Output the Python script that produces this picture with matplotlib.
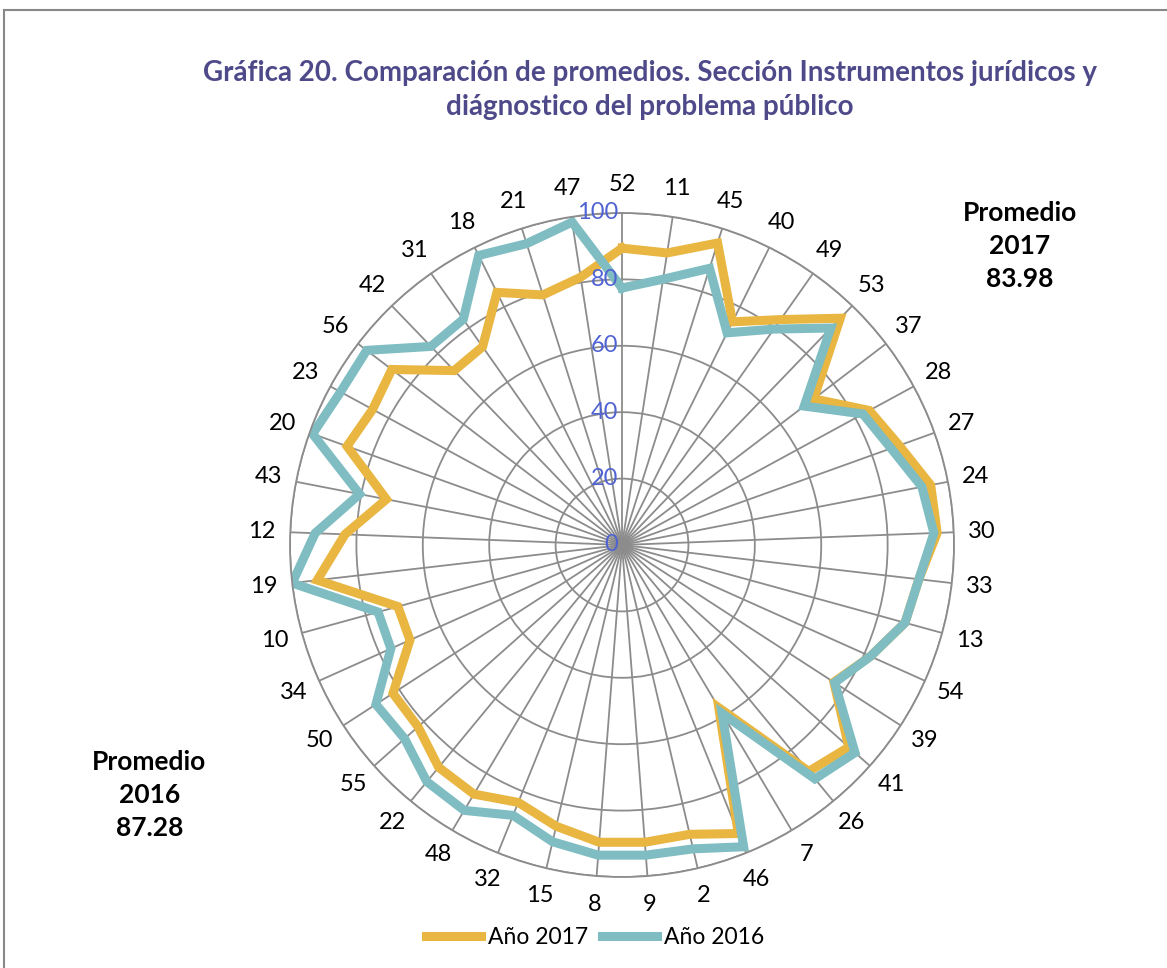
import numpy as np
import matplotlib.pyplot as plt
from matplotlib.lines import Line2D

plt.rcParams['font.family'] = ['Lato', 'DejaVu Sans']

# --- Datos
categorias = ['52', '11', '45', '40', '49', '53', '37', '28', '27', '24', '30',
              '33', '13', '54', '39', '41', '26', '7', '46', '2', '9', '8',
              '15', '32', '48', '22', '55', '50', '34', '10', '19', '12', '43',
              '20', '23', '56', '42', '31', '18', '21', '47']

anio_2017 = [89.4, 89.0, 95.4, 75.0, 83.0, 94.8, 72.6, 84.8, 88.7, 94.7, 95.0,
             90.0, 88.4, 82.0, 76.0, 91.5, 88.4, 57.0, 93.7, 89.5, 89.8, 89.8,
             87.0, 83.6, 87.3, 86.8, 82.3, 82.2, 70.0, 70.0, 92.4, 83.5, 72.3,
             88.0, 85.5, 87.2, 72.9, 73.0, 84.9, 79.0, 81.6]

anio_2016 = [77.4, 81.0, 87.4, 71.3, 79.5, 90.7, 69.0, 82.6, 86.1, 92.0, 94.0,
             90.0, 88.4, 82.0, 76.3, 94.0, 91.3, 59.0, 98.0, 94.0, 93.7, 93.7,
             91.8, 87.8, 93.0, 92.4, 87.7, 88.3, 76.3, 76.2, 100.0, 92.5, 80.5,
             99.0, 96.5, 96.7, 83.0, 83.1, 97.3, 95.2, 98.4]

escala = [0, 20, 40, 60, 80, 100]
promedio_2017 = '83.98'
promedio_2016 = '87.28'

naranja = '#E8B641'
turquesa = '#7FBDC2'
gris = '#8C8C8C'

n = len(categorias)
ang = np.arange(n) * 2 * np.pi / n
ang_c = np.append(ang, ang[0])

fig = plt.figure(figsize=(11.67, 9.68), dpi=100)
ax = fig.add_axes([0.2485, 0.094, 0.569, 0.686], projection='polar')
ax.set_theta_zero_location('N')
ax.set_theta_direction(-1)

l17, = ax.plot(ang_c, np.append(anio_2017, anio_2017[0]), color=naranja,
               lw=6.5, solid_joinstyle='miter', label='Año 2017')
l16, = ax.plot(ang_c, np.append(anio_2016, anio_2016[0]), color=turquesa,
               lw=6.5, solid_joinstyle='miter', label='Año 2016')

ax.set_ylim(0, 100)
ax.set_yticks(escala[1:])
ax.set_yticklabels([])
ax.set_xticks(ang)
ax.set_xticklabels([])
ax.grid(color=gris, lw=1.3)
ax.spines['polar'].set_color(gris)
ax.spines['polar'].set_linewidth(1.3)

for v in escala:
    ax.annotate(str(v), xy=(0, v), xytext=(-3, 0), textcoords='offset points',
                ha='right', va='center', color='#5063D2', fontsize=17,
                annotation_clip=False)

for a, c in zip(ang, categorias):
    ax.text(a, 108.5, c, ha='center', va='center', fontsize=17, clip_on=False)

fig.text(0.557, 0.907, 'Gráfica 20. Comparación de promedios. Sección Instrumentos jurídicos y\n'
         'diágnostico del problema público', ha='center', va='center',
         fontsize=20, weight='bold', color='#4E4A8A', linespacing=1.4)

fig.text(0.874, 0.746, f'Promedio\n2017\n{promedio_2017}', ha='center',
         va='center', fontsize=19, weight='bold', linespacing=1.45)
fig.text(0.128, 0.179, f'Promedio\n2016\n{promedio_2016}', ha='center',
         va='center', fontsize=19, weight='bold', linespacing=1.45)

fig.legend(handles=[l17, l16], loc='center', bbox_to_anchor=(0.51, 0.032),
           ncol=2, frameon=False, fontsize=16.5, handlelength=2.4,
           columnspacing=0.6, handletextpad=0.3)

# marco
fig.add_artist(Line2D([0.003, 0.003], [0, 0.99], color='#888888', lw=1.5))
fig.add_artist(Line2D([0.003, 1], [0.99, 0.99], color='#888888', lw=1.5))

fig.savefig('out.png', dpi=100)
